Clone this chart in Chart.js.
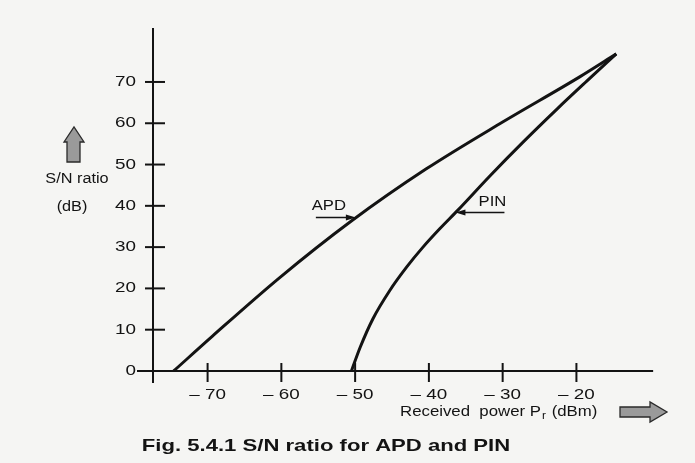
<!DOCTYPE html>
<html>
<head>
<meta charset="utf-8">
<script src="https://cdn.jsdelivr.net/npm/chart.js@4.4.0/dist/chart.umd.min.js"></script>
<style>
  html, body { margin: 0; padding: 0; background: #f5f5f3; }
  #wrap { width: 695px; height: 463px; }
</style>
</head>
<body>
<div id="wrap"><canvas id="snChart" width="695" height="463"></canvas></div>
<script>
// --- Values (received power in dBm, S/N in dB) ---
const apdPower = [-74.6, -69.3, -60.3, -50.6, -40.4, -30.0, -19.5, -14.6];
const apdSN    = [0, 8.5, 22.5, 36.2, 48.9, 60.3, 71.3, 76.8];
const pinPower = [-50.5, -49.3, -47.6, -45.3, -43.0, -40.8, -38.5, -36.1, -31.7, -27.2, -22.6, -18.6, -14.6];
const pinSN    = [0, 5.8, 12.6, 19.5, 25.2, 30.0, 34.5, 38.9, 47.3, 55.5, 63.5, 70.2, 76.8];
const xTicks = [-70, -60, -50, -40, -30, -20];
const yTicks = [0, 10, 20, 30, 40, 50, 60, 70];

// where the hand drawn axes sit / end, in data units
const yAxisAt = -77.4;
const xAxisEnd = -9.6;

// label arrows point at these spots on the curves
const apdArrowAt = { x: -49.9, y: 37.2 };
const pinArrowAt = { x: -36.4, y: 38.4 };

const INK = '#131313';
const FONT = '"Liberation Sans", Arial, sans-serif';

function toPoints(xs, ys) {
    return xs.map((v, i) => ({ x: v, y: ys[i] }));
}

// text drawn slightly stretched, like the scanned book lettering
function stretchText(ctx, text, x, y, font, align, sx) {
    ctx.save();
    ctx.font = font;
    ctx.textBaseline = 'middle';
    ctx.textAlign = align;
    ctx.translate(x, y);
    ctx.scale(sx, 1);
    ctx.fillText(text, 0, 0);
    ctx.restore();
}

function smallArrow(ctx, fromX, toX, yy) {
    const dir = Math.sign(toX - fromX);
    ctx.beginPath();
    ctx.moveTo(fromX, yy);
    ctx.lineTo(toX - dir * 6, yy);
    ctx.lineWidth = 1.5;
    ctx.stroke();
    ctx.beginPath();
    ctx.moveTo(toX, yy);
    ctx.lineTo(toX - dir * 10, yy - 3);
    ctx.lineTo(toX - dir * 10, yy + 3);
    ctx.closePath();
    ctx.fill();
}

function fatArrow(ctx, pts) {
    ctx.beginPath();
    ctx.moveTo(pts[0][0], pts[0][1]);
    pts.slice(1).forEach(p => ctx.lineTo(p[0], p[1]));
    ctx.closePath();
    ctx.fillStyle = '#9a9a9a';
    ctx.fill();
    ctx.lineWidth = 1.3;
    ctx.strokeStyle = '#2a2a2a';
    ctx.stroke();
}

const bookAxes = {
    id: 'bookAxes',
    beforeDatasetsDraw(chart) {
        const { ctx, scales: { x, y } } = chart;
        const ax = x.getPixelForValue(yAxisAt);
        const ay = y.getPixelForValue(0);

        ctx.save();
        ctx.strokeStyle = INK;
        ctx.fillStyle = INK;
        ctx.lineWidth = 2;

        // axis lines
        ctx.beginPath();
        ctx.moveTo(ax, y.bottom);
        ctx.lineTo(ax, y.top);
        ctx.moveTo(x.left, ay);
        ctx.lineTo(x.getPixelForValue(xAxisEnd), ay);
        ctx.stroke();

        // y ticks + labels
        yTicks.forEach(v => {
            const py = y.getPixelForValue(v);
            if (v !== 0) {
                ctx.beginPath();
                ctx.moveTo(ax - 8, py);
                ctx.lineTo(ax + 12, py);
                ctx.stroke();
            }
            stretchText(ctx, String(v), ax - 17, py, '14.5px ' + FONT, 'right', 1.3);
        });

        // x ticks + labels
        xTicks.forEach(v => {
            const px = x.getPixelForValue(v);
            ctx.beginPath();
            ctx.moveTo(px, ay - 8);
            ctx.lineTo(px, ay + 11);
            ctx.stroke();
            stretchText(ctx, '\u2013 ' + Math.abs(v), px, ay + 24, '14.5px ' + FONT, 'center', 1.3);
        });
        ctx.restore();
    },
    afterDraw(chart) {
        const { ctx, scales: { x, y } } = chart;
        ctx.save();
        ctx.fillStyle = INK;
        ctx.strokeStyle = INK;

        // y axis title with fat arrow
        stretchText(ctx, 'S/N ratio', 77, 179, '15.5px ' + FONT, 'center', 1.05);
        stretchText(ctx, '(dB)', 72, 207, '15.5px ' + FONT, 'center', 1.05);
        fatArrow(ctx, [[67, 162], [80, 162], [80, 142], [84, 142], [74, 127], [64, 142], [67, 142]]);

        // x axis title: Received  power P_r (dBm)
        ctx.fillStyle = INK;
        const f = '14px ' + FONT;
        ctx.font = f;
        let tx = 400;
        const ty = 412;
        const part1 = 'Received  power P';
        stretchText(ctx, part1, tx, ty, f, 'left', 1.2);
        tx += ctx.measureText(part1).width * 1.2;
        stretchText(ctx, 'r', tx + 1, ty + 4, '10px ' + FONT, 'left', 1.2);
        tx += 6;
        stretchText(ctx, ' (dBm)', tx, ty, f, 'left', 1.2);
        fatArrow(ctx, [[620, 407], [650, 407], [650, 402], [667, 412], [650, 422], [650, 417], [620, 417]]);

        // curve labels
        ctx.fillStyle = INK;
        ctx.strokeStyle = INK;
        const apdX = x.getPixelForValue(apdArrowAt.x);
        const apdY = y.getPixelForValue(apdArrowAt.y);
        stretchText(ctx, 'APD', apdX - 27, apdY - 11, '14.5px ' + FONT, 'center', 1.15);
        smallArrow(ctx, apdX - 40, apdX, apdY);

        const pinX = x.getPixelForValue(pinArrowAt.x);
        const pinY = y.getPixelForValue(pinArrowAt.y);
        stretchText(ctx, 'PIN', pinX + 37, pinY - 10, '14.5px ' + FONT, 'center', 1.15);
        smallArrow(ctx, pinX + 49, pinX, pinY);

        // caption
        stretchText(ctx, 'Fig. 5.4.1 S/N ratio for APD and PIN', 326, 446, 'bold 17px ' + FONT, 'center', 1.3);
        ctx.restore();
    }
};

const curveStyle = {
    showLine: true,
    pointRadius: 0,
    borderColor: INK,
    borderWidth: 3,
    cubicInterpolationMode: 'monotone',
    fill: false
};

new Chart(document.getElementById('snChart'), {
    type: 'scatter',
    data: {
        datasets: [
            Object.assign({ label: 'APD', data: toPoints(apdPower, apdSN) }, curveStyle),
            Object.assign({ label: 'PIN', data: toPoints(pinPower, pinSN) }, curveStyle)
        ]
    },
    options: {
        responsive: false,
        animation: false,
        layout: { padding: { left: 137, right: 35, top: 28, bottom: 80 } },
        plugins: { legend: { display: false }, tooltip: { enabled: false } },
        scales: {
            x: { type: 'linear', min: -79.57, max: -8.67, display: false },
            y: { type: 'linear', min: -2.91, max: 83.07, display: false }
        }
    },
    plugins: [bookAxes]
});
</script>
</body>
</html>
